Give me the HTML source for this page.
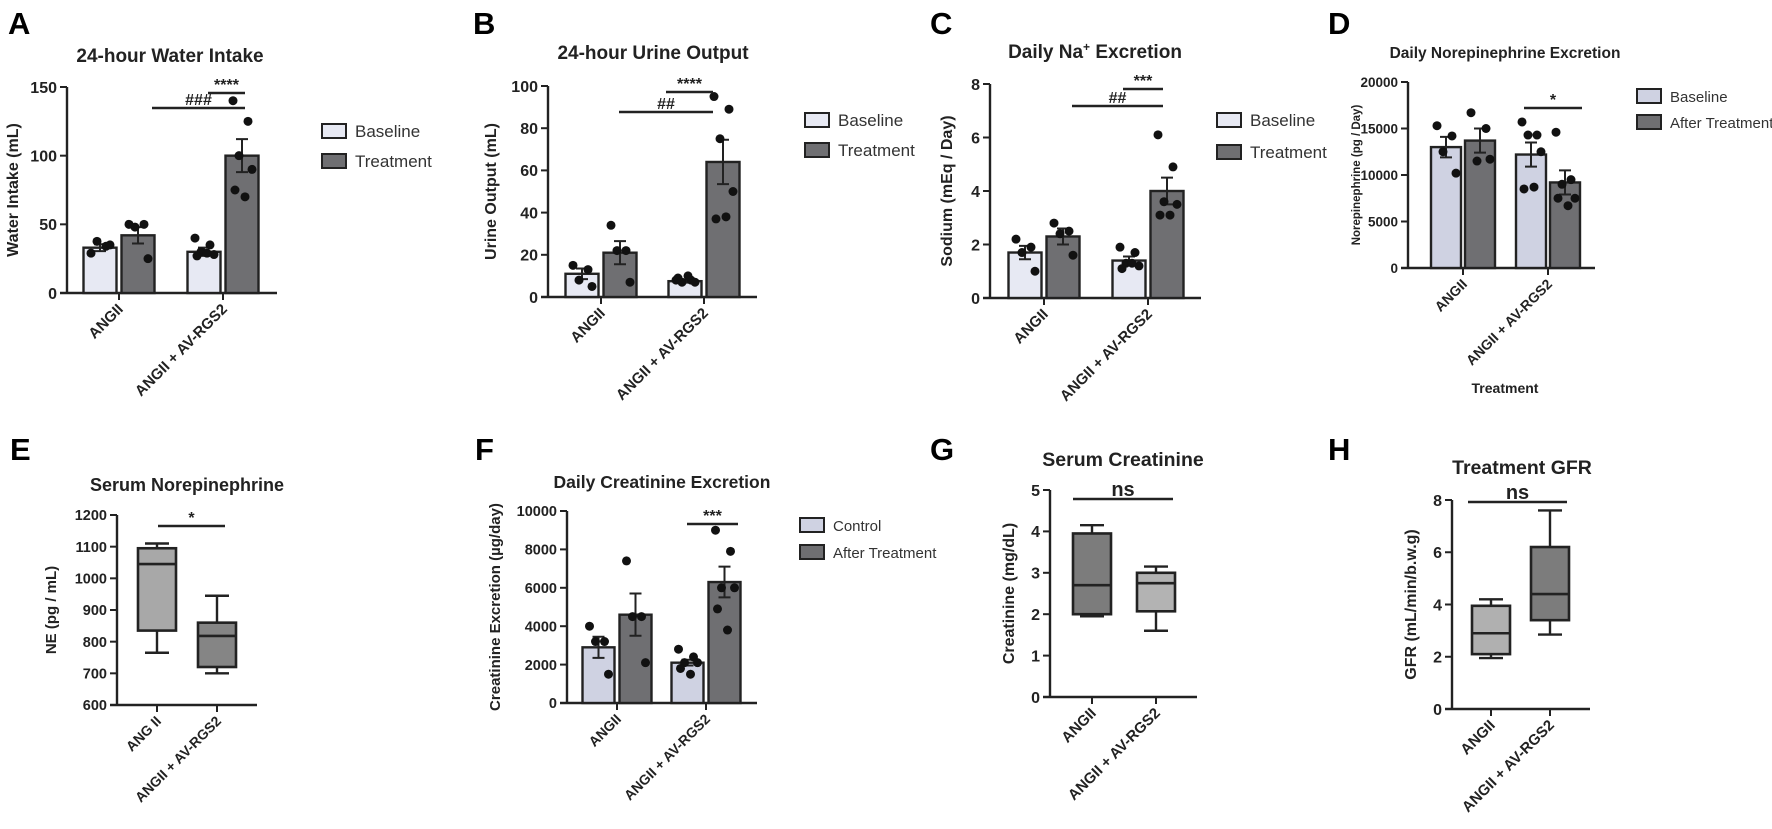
<!DOCTYPE html>
<html><head><meta charset="utf-8"><style>
html,body{margin:0;padding:0;background:#fff;}
svg{display:block;font-family:"Liberation Sans",sans-serif;}
</style></head><body>
<svg id="fig" width="1772" height="829" viewBox="0 0 1772 829" xmlns="http://www.w3.org/2000/svg"></svg>
<script>
// ---------- data ----------
const groups = ["ANGII", "ANGII + AV-RGS2"];
// Panel A: water intake
const aMeans = [[33, 42], [30, 100]];
const aSem = [[2.5, 6], [3, 12]];
const aPts = [[[29, 34, 37.6, 35], [50, 50, 48, 25]], [[40, 35, 30, 28, 27, 29], [140, 125, 100, 90, 75, 70]]];
const aTicks = [0, 50, 100, 150];
// Panel B: urine output
const bMeans = [[11, 21], [7.5, 64]];
const bSem = [[2.5, 5.5], [0.7, 10.5]];
const bPts = [[[15, 13, 8, 5], [34, 22, 22, 7]], [[8, 8, 7, 7, 9, 10], [95, 89, 75, 50, 37, 38]]];
const bTicks = [0, 20, 40, 60, 80, 100];
// Panel C: sodium
const cMeans = [[1.7, 2.3], [1.4, 4.0]];
const cSem = [[0.25, 0.3], [0.15, 0.5]];
const cPts = [[[2.2, 1.9, 1.7, 1.0], [2.8, 2.5, 2.4, 1.6]], [[1.9, 1.7, 1.3, 1.2, 1.1, 1.3], [6.1, 4.9, 3.6, 3.5, 3.1, 3.1]]];
const cTicks = [0, 2, 4, 6, 8];
// Panel D: NE excretion
const dMeans = [[13000, 13700], [12200, 9200]];
const dSem = [[1100, 1300], [1300, 1300]];
const dPts = [[[15300, 14200, 12500, 10200], [16700, 15000, 11500, 11700]], [[15700, 14300, 14300, 12500, 8500, 8700], [14600, 9500, 9000, 7500, 7500, 6700]]];
const dTicks = [0, 5000, 10000, 15000, 20000];
// Panel F: creatinine excretion
const fMeans = [[2900, 4600], [2100, 6300]];
const fSem = [[550, 1100], [150, 800]];
const fPts = [[[4000, 3200, 3200, 1500], [7400, 4500, 4500, 2100]], [[2800, 2400, 2100, 2100, 1800, 1500], [9000, 7900, 6000, 6000, 4900, 3800]]];
const fTicks = [0, 2000, 4000, 6000, 8000, 10000];
// Box panels: [min, q1, median, q3, max]
const eBoxes = [[765, 835, 1045, 1095, 1110], [700, 720, 818, 860, 945]];
const eTicks = [600, 700, 800, 900, 1000, 1100, 1200];
const eGroups = ["ANG II", "ANGII + AV-RGS2"];
const gBoxes = [[1.95, 2.0, 2.7, 3.95, 4.15], [1.6, 2.07, 2.75, 3.0, 3.15]];
const gTicks = [0, 1, 2, 3, 4, 5];
const hBoxes = [[1.95, 2.1, 2.9, 3.95, 4.2], [2.85, 3.4, 4.4, 6.2, 7.6]];
const hTicks = [0, 2, 4, 6, 8];

// ---------- helpers ----------
const NS = "http://www.w3.org/2000/svg";
const svg = document.getElementById("fig");
function mk(tag, attrs, parent) {
  const e = document.createElementNS(NS, tag);
  for (const k in attrs) e.setAttribute(k, attrs[k]);
  (parent || svg).appendChild(e);
  return e;
}
function txt(str, attrs, parent) { const t = mk("text", attrs, parent); t.textContent = str; return t; }
const jit = [-9, 6, -3, 10, -7, 3];

function axes(g, c, ticks, ylab, glabels) {
  const y = v => c.y0 - (v - ticks[0]) / (ticks[ticks.length - 1] - ticks[0]) * (c.y0 - c.yTop);
  const yl = mk("line", {x1: c.ax, y1: c.yTop, x2: c.ax, y2: c.y0, stroke: "#222", "stroke-width": 2.4}, g);
  
  
  const xl = mk("line", {x1: c.ax - 7, y1: c.y0, x2: c.xEnd, y2: c.y0, stroke: "#222", "stroke-width": 2.4}, g);
  
  
  ticks.forEach(t => {
    mk("line", {x1: c.ax - 7, y1: y(t), x2: c.ax, y2: y(t), stroke: "#222", "stroke-width": 2}, g);
    const fs = c.tfs || 16;
    const tl = txt(String(t), {x: c.ax - 10, y: y(t) + fs * 0.36, "text-anchor": "end", "font-size": fs, "font-weight": "bold", fill: "#222"}, g);
    
    
  });
  const yc = (c.yTop + c.y0) / 2;
  const lab = txt(ylab, {x: c.ylx, y: yc, "text-anchor": "middle", "font-size": c.lfs || 16, "font-weight": "bold", fill: "#222", transform: `rotate(-90 ${c.ylx} ${yc})`}, g);
  
  
  c.gx.forEach((gx, i) => {
    mk("line", {x1: gx, y1: c.y0, x2: gx, y2: c.y0 + 7, stroke: "#222", "stroke-width": 2}, g);
    const lx = gx + 5, ly = c.y0 + 17;
    const xt = txt(glabels[i], {x: lx, y: ly, "text-anchor": "end", "font-size": c.xfs || 15, "font-weight": "bold", fill: "#222", transform: `rotate(-45 ${lx} ${ly})`}, g);
    
    
  });
  return y;
}
function header(g, letter, lx, ly, title, tx, ty, tfs) {
  const l = txt(letter, {x: lx, y: ly, "font-size": 31, "font-weight": "bold", fill: "#000"}, g);
  
  
  const t = txt(title, {x: tx, y: ty, "text-anchor": "middle", "font-size": tfs || 19, "font-weight": "bold", fill: "#222"}, g);
  
  
  return t;
}
function sig(g, x1, x2, yy, label) {
  const ln = mk("line", {x1: x1, y1: yy, x2: x2, y2: yy, stroke: "#222", "stroke-width": 2.4}, g);
  
  
  const t = txt(label, {x: (x1 + x2) / 2, y: yy - 3, "text-anchor": "middle", "font-size": label === "ns" ? 20 : 16, "font-weight": "bold", fill: "#222"}, g);
  
  
}
function legend(g, x, y1, y2, labels, c1, c2, fs) {
  [[y1, c1, labels[0]], [y2, c2, labels[1]]].forEach(([yy, col, lab]) => {
    const r = mk("rect", {x: x, y: yy - 7, width: 24, height: 14, fill: col, stroke: "#222", "stroke-width": 2}, g);
    
    
    const t = txt(lab, {x: x + 33, y: yy + 6, "font-size": fs || 17, fill: "#333"}, g);
    
    
  });
}
function bars(g, y, c, means, sem, pts, cols) {
  means.forEach((grp, gi) => grp.forEach((m, si) => {
    const bx = c.gx[gi] + (si === 0 ? -c.bw - c.gap / 2 : c.gap / 2);
    const cx = bx + c.bw / 2;
    const r = mk("rect", {x: bx, y: y(m), width: c.bw, height: c.y0 - y(m), fill: cols[si], stroke: "#222", "stroke-width": 2.4}, g);
    
    
    const s = sem[gi][si];
    const eb = mk("path", {d: `M${cx} ${y(m - s)}V${y(m + s)}M${cx - 6} ${y(m + s)}H${cx + 6}M${cx - 6} ${y(m - s)}H${cx + 6}`, stroke: "#222", "stroke-width": 2, fill: "none"}, g);
    
    
    pts[gi][si].forEach((p, k) => {
      const d = mk("circle", {cx: cx + jit[k % jit.length], cy: y(p), r: 4.5, fill: "#111"}, g);
      
      
    });
  }));
}
function boxes(g, y, c, data, cols) {
  data.forEach((b, i) => {
    const cx = c.gx[i], hw = c.bw / 2;
    const w = mk("path", {d: `M${cx} ${y(b[0])}V${y(b[1])}M${cx} ${y(b[3])}V${y(b[4])}M${cx - 12} ${y(b[0])}H${cx + 12}M${cx - 12} ${y(b[4])}H${cx + 12}`, stroke: "#222", "stroke-width": 2.4, fill: "none"}, g);
    
    
    const r = mk("rect", {x: cx - hw, y: y(b[3]), width: c.bw, height: y(b[1]) - y(b[3]), fill: cols[i], stroke: "#222", "stroke-width": 2.6}, g);
    
    
    const md = mk("line", {x1: cx - hw, x2: cx + hw, y1: y(b[2]), y2: y(b[2]), stroke: "#222", "stroke-width": 2.6}, g);
    
    
  });
}
function panel(name) { const g = mk("g", {});   return g; }

const LIGHT = "#e7e9f3", LAV = "#cfd2e2", DARK = "#6f6f72";

// ---------- Panel A ----------
{ const g = panel("panel-a-water-intake");
  header(g, "A", 8, 34, "24-hour Water Intake", 170, 62);
  const c = {ax: 67, y0: 293, yTop: 87, xEnd: 277, ylx: 18, gx: [119, 223], bw: 33, gap: 5};
  const y = axes(g, c, aTicks, "Water Intake (mL)", groups);
  bars(g, y, c, aMeans, aSem, aPts, [LIGHT, DARK]);
  sig(g, 208, 245, 93, "****"); sig(g, 152, 245, 108, "###");
  legend(g, 322, 131, 161, ["Baseline", "Treatment"], LIGHT, DARK);
}
// ---------- Panel B ----------
{ const g = panel("panel-b-urine-output");
  header(g, "B", 473, 34, "24-hour Urine Output", 653, 59);
  const c = {ax: 548, y0: 297, yTop: 86, xEnd: 757, ylx: 496, gx: [601, 704], bw: 33, gap: 5};
  const y = axes(g, c, bTicks, "Urine Output (mL)", groups);
  bars(g, y, c, bMeans, bSem, bPts, [LIGHT, DARK]);
  sig(g, 666, 713, 92, "****"); sig(g, 619, 713, 112, "##");
  legend(g, 805, 120, 150, ["Baseline", "Treatment"], LIGHT, DARK);
}
// ---------- Panel C ----------
{ const g = panel("panel-c-sodium-excretion");
  header(g, "C", 930, 34, "", 1095, 58);
  const t = txt("Daily Na", {x: 1095, y: 58, "text-anchor": "middle", "font-size": 19, "font-weight": "bold", fill: "#222"}, g);
  
  
  const sup = mk("tspan", {dy: -7, "font-size": 12}, t); sup.textContent = "+";
  const rest = mk("tspan", {dy: 7}, t); rest.textContent = " Excretion";
  const c = {ax: 990, y0: 298, yTop: 84, xEnd: 1201, ylx: 952, gx: [1044, 1148], bw: 33, gap: 5};
  const y = axes(g, c, cTicks, "Sodium (mEq / Day)", groups);
  bars(g, y, c, cMeans, cSem, cPts, [LIGHT, DARK]);
  sig(g, 1123, 1163, 89, "***"); sig(g, 1072, 1163, 106, "##");
  legend(g, 1217, 120, 152, ["Baseline", "Treatment"], LIGHT, DARK);
}
// ---------- Panel D ----------
{ const g = panel("panel-d-ne-excretion");
  header(g, "D", 1328, 34, "Daily Norepinephrine Excretion", 1505, 58, 15.5);
  const c = {ax: 1408, y0: 268, yTop: 82, xEnd: 1595, ylx: 1360, gx: [1463, 1548], bw: 30, gap: 4, tfs: 13.5, lfs: 11.5, xfs: 14};
  const y = axes(g, c, dTicks, "Norepinephrine (pg / Day)", groups);
  bars(g, y, c, dMeans, dSem, dPts, [LAV, DARK]);
  sig(g, 1524, 1582, 108, "*");
  legend(g, 1637, 96, 122, ["Baseline", "After Treatment"], LAV, DARK, 15);
  const xt = txt("Treatment", {x: 1505, y: 393, "text-anchor": "middle", "font-size": 14, "font-weight": "bold", fill: "#222"}, g);
  
  
}
// ---------- Panel E ----------
{ const g = panel("panel-e-serum-ne");
  header(g, "E", 10, 460, "Serum Norepinephrine", 187, 491, 18);
  const c = {ax: 117, y0: 705, yTop: 515, xEnd: 257, ylx: 56, gx: [157, 217], bw: 38, tfs: 14.5, lfs: 15, xfs: 14};
  const y = axes(g, c, eTicks, "NE (pg / mL)", eGroups);
  boxes(g, y, c, eBoxes, ["#a8a8a8", "#858585"]);
  sig(g, 158, 225, 526, "*");
}
// ---------- Panel F ----------
{ const g = panel("panel-f-creatinine-excretion");
  header(g, "F", 475, 460, "Daily Creatinine Excretion", 662, 488, 17.5);
  const c = {ax: 567, y0: 703, yTop: 511, xEnd: 757, ylx: 500, gx: [617, 706], bw: 32, gap: 5, tfs: 14.5, lfs: 15, xfs: 14};
  const y = axes(g, c, fTicks, "Creatinine Excretion (µg/day)", groups);
  bars(g, y, c, fMeans, fSem, fPts, [LAV, DARK]);
  sig(g, 687, 738, 524, "***");
  legend(g, 800, 525, 552, ["Control", "After Treatment"], LAV, DARK, 15);
}
// ---------- Panel G ----------
{ const g = panel("panel-g-serum-creatinine");
  header(g, "G", 930, 460, "Serum Creatinine", 1123, 466, 19.5);
  const c = {ax: 1050, y0: 697, yTop: 490, xEnd: 1197, ylx: 1014, gx: [1092, 1156], bw: 38};
  const y = axes(g, c, gTicks, "Creatinine (mg/dL)", groups);
  boxes(g, y, c, gBoxes, ["#7c7c7c", "#b3b3b3"]);
  sig(g, 1073, 1173, 499, "ns");
}
// ---------- Panel H ----------
{ const g = panel("panel-h-gfr");
  header(g, "H", 1328, 460, "Treatment GFR", 1522, 474, 19.5);
  const c = {ax: 1452, y0: 709, yTop: 500, xEnd: 1590, ylx: 1416, gx: [1491, 1550], bw: 38};
  const y = axes(g, c, hTicks, "GFR (mL/min/b.w.g)", groups);
  boxes(g, y, c, hBoxes, ["#b0b0b0", "#7c7c7c"]);
  sig(g, 1468, 1567, 502, "ns");
}
</script>
</body></html>
